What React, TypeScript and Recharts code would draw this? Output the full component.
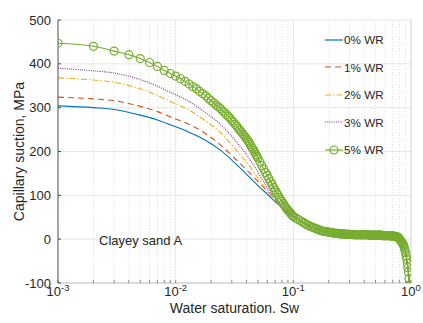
import { CartesianGrid, Legend, Line, LineChart, ReferenceLine, XAxis, YAxis } from 'recharts'

const FONT = '"Liberation Sans", Arial, Helvetica, sans-serif'
const TEXT = '#262626'
const AXIS = '#4a4a4a'
const GRID = '#e6e6e6'

// Sw sample points for the plain curves (0-3% WR)
const swCurve = [
  0.001, 0.002, 0.003, 0.005, 0.007, 0.009, 0.0125, 0.017, 0.024, 0.033, 0.046, 0.052, 0.06,
  0.073, 0.094, 0.13, 0.18, 0.25, 0.37, 0.5, 0.65, 0.76, 0.8, 0.85, 0.89, 0.93, 0.96, 0.98, 1,
]
const wr0 = [
  304, 300, 296, 283, 272, 261, 246, 229, 203, 170, 132, 118, 103,
  81, 58, 33, 18, 12, 10, 9, 8, 5, 0, -10, -26, -55, -90, -130, -250,
]
const wr1 = [
  324, 320, 316, 303, 291, 279, 264, 245, 215, 180, 142, 127, 110,
  85, 58, 33, 18, 12, 10, 9, 8, 5, 0, -10, -26, -55, -90, -130, -250,
]
const wr2 = [
  368, 363, 358, 343, 328, 314, 297, 274, 243, 202, 154, 133, 111,
  84, 58, 33, 18, 12, 10, 9, 8, 5, 0, -10, -26, -55, -90, -130, -250,
]
const wr3 = [
  390, 384, 379, 364, 349, 335, 317, 293, 262, 221, 169, 145, 118,
  86, 58, 33, 18, 12, 10, 9, 8, 5, 0, -10, -26, -55, -90, -130, -250,
]

// 5% WR is plotted with a marker at every sample
const swMarked = [
  0.001, 0.002, 0.003, 0.004, 0.005, 0.006, 0.007, 0.008, 0.009, 0.01,
  0.011, 0.012, 0.013, 0.014, 0.015, 0.016, 0.017, 0.018, 0.019, 0.02,
  0.021, 0.022, 0.023, 0.024, 0.025, 0.026, 0.027, 0.028, 0.029, 0.03,
  0.031, 0.032, 0.033, 0.034, 0.035, 0.036, 0.037, 0.038, 0.039, 0.04,
  0.041, 0.042, 0.043, 0.044, 0.045, 0.046, 0.047, 0.048, 0.049, 0.05,
  0.052, 0.054, 0.056, 0.058, 0.06, 0.062, 0.064, 0.066, 0.068, 0.07,
  0.072, 0.074, 0.076, 0.078, 0.08, 0.082, 0.084, 0.086, 0.088, 0.09,
  0.092, 0.094, 0.096, 0.098, 0.1,
  0.105, 0.11, 0.115, 0.12, 0.125, 0.13, 0.135, 0.14, 0.145, 0.15,
  0.155, 0.16, 0.165, 0.17, 0.175, 0.18, 0.185, 0.19, 0.195, 0.2,
  0.205, 0.21, 0.215, 0.22, 0.225, 0.23, 0.235, 0.24, 0.245, 0.25,
  0.255, 0.26, 0.265, 0.27, 0.275, 0.28, 0.285, 0.29, 0.295, 0.3,
  0.31, 0.32, 0.33, 0.34, 0.35, 0.36, 0.37, 0.38, 0.39, 0.4,
  0.41, 0.42, 0.43, 0.44, 0.45, 0.46, 0.47, 0.48, 0.49, 0.5,
  0.51, 0.52, 0.53, 0.54, 0.55, 0.56, 0.57, 0.58, 0.59, 0.6,
  0.61, 0.62, 0.63, 0.64, 0.65, 0.66, 0.67, 0.68, 0.69, 0.7,
  0.71, 0.72, 0.73, 0.74, 0.75, 0.76, 0.77, 0.78, 0.79, 0.8,
  0.81, 0.82, 0.83, 0.84, 0.85, 0.86, 0.87, 0.88, 0.89, 0.9,
  0.91, 0.92, 0.93, 0.94, 0.95, 0.96, 0.97, 0.98, 0.99, 1,
]
const wr5 = [
  447, 440, 429, 421, 412, 403, 394, 385, 378, 372,
  366, 360, 354, 348, 343, 337, 332, 327, 321, 316,
  311, 306, 302, 298, 293, 289, 284, 280, 276, 271,
  267, 262, 258, 253, 249, 245, 241, 237, 233, 229,
  225, 221, 216, 211, 207, 203, 198, 193, 189, 185,
  176, 168, 160, 152, 145, 138, 131, 125, 118, 112,
  106, 101, 95, 90, 86, 81, 77, 73, 69, 66,
  63, 60, 57, 54, 52,
  48, 45, 42, 39, 36, 33, 31, 29, 27, 26,
  24, 23, 21, 20, 19, 18, 17.5, 17, 16.5, 16,
  15.5, 15, 14.5, 14, 13.5, 13, 13, 13, 12.5, 12,
  12, 12, 12, 12, 11.5, 11, 11, 11, 11, 11,
  11, 11, 10, 10, 10, 10, 10, 10, 10, 10,
  10, 10, 10, 9, 9, 9, 9, 9, 9, 9,
  9, 9, 9, 9, 9, 9, 8, 8, 8, 8,
  8, 8, 8, 8, 8, 8, 8, 7, 7, 7,
  7, 7, 6, 6, 6, 5, 5, 4, 2, 0,
  -2, -4, -6, -8, -10, -13, -16, -20, -26, -31,
  -38, -46, -55, -65, -75, -90, -105, -130, -170, -250,
]

const yTicks = [-100, 0, 100, 200, 300, 400, 500]
const decadeTicks = [0.001, 0.01, 0.1, 1]
const minorTicks = [
  0.002, 0.003, 0.004, 0.005, 0.006, 0.007, 0.008, 0.009,
  0.02, 0.03, 0.04, 0.05, 0.06, 0.07, 0.08, 0.09,
  0.2, 0.3, 0.4, 0.5, 0.6, 0.7, 0.8, 0.9,
]

const toRows = (xs: number[], ys: number[]) => xs.map((sw, i) => ({ sw, p: ys[i] }))

const SERIES = [
  { key: 'wr0', name: '0% WR', color: '#0072BD', dash: undefined, rows: toRows(swCurve, wr0), marker: false },
  { key: 'wr1', name: '1% WR', color: '#D95319', dash: '6 4', rows: toRows(swCurve, wr1), marker: false },
  { key: 'wr2', name: '2% WR', color: '#EDB120', dash: '6 2 1.5 2', rows: toRows(swCurve, wr2), marker: false },
  { key: 'wr3', name: '3% WR', color: '#7E2F8E', dash: '1 1.2', rows: toRows(swCurve, wr3), marker: false },
  { key: 'wr5', name: '5% WR', color: '#77AC30', dash: undefined, rows: toRows(swMarked, wr5), marker: true },
]

// only decades get a label; minor ticks keep just their tick mark
function DecadeTick({ x, y, payload }: any) {
  const v = payload.value as number
  const exp = Math.round(Math.log10(v))
  if (Math.abs(Math.pow(10, exp) - v) > 1e-9) return null
  return (
    <text x={x} y={y} textAnchor="middle" fill={TEXT} fontSize={13} fontFamily={FONT}>
      <tspan>10</tspan>
      <tspan dy={-5.5} fontSize={9.5}>{String(exp)}</tspan>
    </text>
  )
}

function WrLegend() {
  return (
    <div style={{ fontFamily: FONT, fontSize: 11.7, color: TEXT }}>
      {SERIES.map((s) => (
        <div key={s.key} style={{ display: 'flex', alignItems: 'center', height: 27.5 }}>
          <svg width={20} height={10}>
            <line x1={1} x2={19} y1={5} y2={5} stroke={s.color} strokeWidth={1.2} strokeDasharray={s.dash} />
            {s.marker ? <circle cx={10} cy={5} r={4} fill="none" stroke={s.color} strokeWidth={1.2} /> : null}
          </svg>
          <span>{s.name}</span>
        </div>
      ))}
    </div>
  )
}

export default function App() {
  return (
    <div style={{ position: 'fixed', left: 0, top: 0, width: 423, height: 323, background: '#fff' }}>
      <LineChart width={423} height={323} margin={{ top: 20, right: 12, bottom: 0, left: 0 }}>
        <CartesianGrid vertical={false} stroke={GRID} />
        {minorTicks.map((t) => (
          <ReferenceLine key={`m${t}`} x={t} stroke="#dedede" strokeDasharray="1 2" />
        ))}
        {decadeTicks.slice(1).map((t) => (
          <ReferenceLine key={`d${t}`} x={t} stroke={t === 1 ? '#cfcfcf' : GRID} />
        ))}
        <XAxis
          dataKey="sw"
          type="number"
          scale="log"
          domain={[0.001, 1]}
          allowDataOverflow
          ticks={[...decadeTicks, ...minorTicks]}
          tick={<DecadeTick />}
          tickSize={-3}
          tickMargin={16}
          height={40}
          axisLine={{ stroke: '#c4c4c4' }}
          tickLine={{ stroke: '#8a8a8a' }}
          interval={0}
          label={{
            content: ({ viewBox }: any) => (
              <text
                x={viewBox.x + viewBox.width / 2}
                y={viewBox.y + 30}
                textAnchor="middle"
                fill={TEXT}
                fontSize={14}
                fontFamily={FONT}
              >
                Water saturation. Sw
              </text>
            ),
          }}
        />
        <YAxis
          type="number"
          domain={[-100, 500]}
          allowDataOverflow
          ticks={yTicks}
          interval={0}
          width={58}
          tickSize={-3}
          tickMargin={10}
          tick={{ fill: TEXT, fontSize: 13, fontFamily: FONT }}
          axisLine={{ stroke: AXIS }}
          tickLine={{ stroke: AXIS }}
          label={{
            content: ({ viewBox }: any) => {
              const cx = viewBox.x + 19
              const cy = viewBox.y + viewBox.height / 2
              return (
                <text
                  x={cx}
                  y={cy}
                  transform={`rotate(-90 ${cx} ${cy})`}
                  textAnchor="middle"
                  dominantBaseline="central"
                  fill={TEXT}
                  fontSize={14}
                  fontFamily={FONT}
                >
                  Capillary suction, MPa
                </text>
              )
            },
          }}
        />
        {SERIES.map((s) => (
          <Line
            key={s.key}
            data={s.rows}
            dataKey="p"
            name={s.name}
            type="monotone"
            stroke={s.color}
            strokeWidth={1.1}
            strokeDasharray={s.dash}
            dot={s.marker ? { r: 4, stroke: s.color, strokeWidth: 1.2, fill: 'none' } : false}
            activeDot={false}
            isAnimationActive={false}
          />
        ))}
        <Legend
          layout="vertical"
          align="center"
          verticalAlign="middle"
          wrapperStyle={{ left: 324, top: 26, width: 90 }}
          content={<WrLegend />}
        />
      </LineChart>
      <div
        style={{
          position: 'absolute',
          left: 99,
          top: 233,
          fontFamily: FONT,
          fontSize: 13,
          lineHeight: '15px',
          color: TEXT,
        }}
      >
        Clayey sand A
      </div>
    </div>
  )
}
